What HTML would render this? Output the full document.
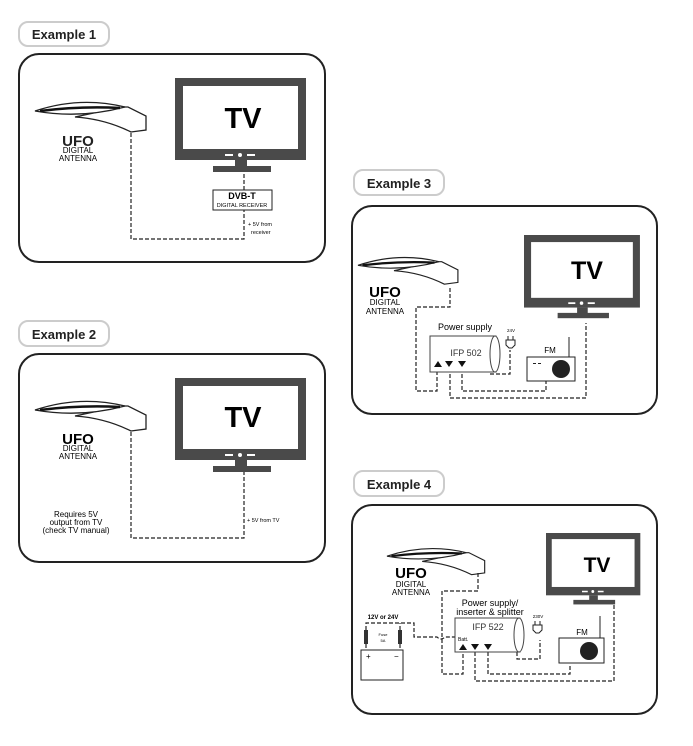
<!DOCTYPE html>
<html><head><meta charset="utf-8"><style>
body{margin:0;background:#fff;}
svg{display:block;font-family:"Liberation Sans",Arial,sans-serif;}
</style></head><body>
<svg width="693" height="746" viewBox="0 0 693 746" xmlns="http://www.w3.org/2000/svg">
<defs>
<g id="tv">
<rect x="0" y="0" width="131" height="82" fill="#4a4a4a"/>
<rect x="8" y="8" width="115" height="63" fill="#fff"/>
<rect x="50" y="76" width="8" height="2" fill="#fff"/><rect x="72" y="76" width="8" height="2" fill="#fff"/><circle cx="65" cy="77" r="2" fill="#fff"/>
<rect x="60" y="82" width="12" height="7" fill="#4a4a4a"/>
<rect x="38" y="88" width="58" height="6" fill="#4a4a4a"/>
</g>
<g id="ant">
<path d="M87,3 L93,3 L111,12 L111,26 L96,28 Q70,15 40,13 Z" fill="#fff" stroke="#222" stroke-width="1.3"/>
<path d="M0,7 Q45,-8 90,3 Q45,15 0,7 Z" fill="#fff" stroke="#222" stroke-width="1.3"/>
<path d="M5,7 Q45,2 85,4" fill="none" stroke="#111" stroke-width="2.5"/>
</g>
</defs>
<g fill="none" stroke="#222" stroke-width="2">
<rect x="19" y="22" width="90" height="24" rx="9" stroke="#ccc"/>
<rect x="19" y="321" width="90" height="25" rx="9" stroke="#ccc"/>
<rect x="354" y="170" width="90" height="25" rx="9" stroke="#ccc"/>
<rect x="354" y="471" width="90" height="25" rx="9" stroke="#ccc"/>
<rect x="19" y="54" width="306" height="208" rx="20"/>
<rect x="19" y="354" width="306" height="208" rx="20"/>
<rect x="352" y="206" width="305" height="208" rx="20"/>
<rect x="352" y="505" width="305" height="209" rx="20"/>
</g>
<g font-weight="bold" font-size="13" fill="#222" text-anchor="middle">
<text x="64" y="39">Example 1</text><text x="64" y="339">Example 2</text>
<text x="399" y="188">Example 3</text><text x="399" y="489">Example 4</text>
</g>
<!-- Example 1 -->
<use href="#tv" transform="translate(175,78)"/>
<use href="#ant" transform="translate(35,104)"/>
<text x="243" y="128" font-size="29" font-weight="bold" text-anchor="middle">TV</text>
<text x="78" y="146" font-size="15" font-weight="bold" text-anchor="middle" fill="#222">UFO</text>
<text x="78" y="152" font-size="8" text-anchor="middle" dy="1">DIGITAL</text>
<text x="78" y="161" font-size="8" text-anchor="middle">ANTENNA</text>
<g fill="none" stroke="#222" stroke-width="1.2" stroke-dasharray="4,2">
<path d="M131,133 V239 H244 V210"/><path d="M244,190 V172"/>
</g>
<rect x="213" y="190" width="59" height="20" fill="#fff" stroke="#222"/>
<text x="242" y="199" font-size="9" font-weight="bold" text-anchor="middle">DVB-T</text>
<text x="242" y="207" font-size="5.5" text-anchor="middle">DIGITAL RECEIVER</text>
<text x="248" y="226" font-size="5.5">+ 5V from</text><text x="251" y="234" font-size="5.5">receiver</text>
<!-- Example 2 -->
<use href="#tv" transform="translate(175,378)"/>
<use href="#ant" transform="translate(35,403)"/>
<text x="243" y="427" font-size="29" font-weight="bold" text-anchor="middle">TV</text>
<text x="78" y="444" font-size="15" font-weight="bold" text-anchor="middle">UFO</text>
<text x="78" y="450" font-size="8" text-anchor="middle" dy="1">DIGITAL</text>
<text x="78" y="459" font-size="8" text-anchor="middle">ANTENNA</text>
<path d="M131,432 V538 H244 V472" fill="none" stroke="#222" stroke-width="1.2" stroke-dasharray="4,2"/>
<g font-size="8" text-anchor="middle"><text x="76" y="517">Requires 5V</text><text x="76" y="525">output from TV</text><text x="76" y="533">(check TV manual)</text></g>
<text x="247" y="522" font-size="5.5">+ 5V from TV</text>
<!-- Example 3 -->
<use href="#tv" transform="translate(524,235) scale(0.885)"/>
<use href="#ant" transform="translate(358,259) scale(0.9)"/>
<text x="587" y="279" font-size="25" font-weight="bold" text-anchor="middle">TV</text>
<text x="385" y="297" font-size="15" font-weight="bold" text-anchor="middle">UFO</text>
<text x="385" y="305" font-size="8" text-anchor="middle">DIGITAL</text>
<text x="385" y="314" font-size="8" text-anchor="middle">ANTENNA</text>
<g fill="none" stroke="#222" stroke-width="1.2" stroke-dasharray="4,2">
<path d="M450,288 V307 H416 V391 H437 V368"/>
<path d="M450,368 V398 H586 V323"/>
<path d="M462,368 V391 H546 V381"/>
<path d="M490,368 V374 H510 V350"/>
</g>
<rect x="430" y="336" width="66" height="36" fill="#fff" stroke="#444"/>
<ellipse cx="495" cy="354" rx="5" ry="18" fill="#fff" stroke="#444"/>
<text x="465" y="330" font-size="9" text-anchor="middle">Power supply</text>
<text x="466" y="356" font-size="9" text-anchor="middle" fill="#333">IFP 502</text>
<path d="M434,367 L438,361 L442,367 Z M445,361 L453,361 L449,367 Z M458,361 L466,361 L462,367 Z" fill="#111"/>
<path d="M506,340 h9 v5 l-3,3 h-3 l-3,-3 Z M508,336 v4 M513,336 v4" fill="#fff" stroke="#222"/>
<text x="511" y="332" font-size="4.5" text-anchor="middle">24V</text>
<line x1="569" y1="337" x2="569" y2="357" stroke="#222"/>
<rect x="527" y="357" width="48" height="24" fill="#fff" stroke="#222"/>
<circle cx="561" cy="369" r="9" fill="#222"/>
<rect x="533" y="363" width="3" height="1" fill="#222"/><rect x="538" y="363" width="3" height="1" fill="#222"/>
<text x="550" y="353" font-size="8" text-anchor="middle">FM</text>
<!-- Example 4 -->
<use href="#tv" transform="translate(546,533) scale(0.72,0.76)"/>
<use href="#ant" transform="translate(387,550) scale(0.88)"/>
<text x="597" y="572" font-size="21" font-weight="bold" text-anchor="middle">TV</text>
<text x="411" y="578" font-size="15" font-weight="bold" text-anchor="middle">UFO</text>
<text x="411" y="587" font-size="8" text-anchor="middle">DIGITAL</text>
<text x="411" y="595" font-size="8" text-anchor="middle">ANTENNA</text>
<g fill="none" stroke="#222" stroke-width="1.2" stroke-dasharray="4,2">
<path d="M478,573 V591 H442 V674 H463 V652"/>
<path d="M475,652 V681 H614 V605"/>
<path d="M488,652 V674 H570 V665"/>
<path d="M517,652 V659 H540 V640"/>
<path d="M366,648 V623 H414 V637 H437 Q441,641 445,637 H455"/>
<path d="M400,648 V623"/>
</g>
<rect x="455" y="618" width="65" height="34" fill="#fff" stroke="#444"/>
<ellipse cx="519" cy="635" rx="5" ry="17" fill="#fff" stroke="#444"/>
<text x="490" y="606" font-size="9" text-anchor="middle">Power supply/</text>
<text x="490" y="615" font-size="9" text-anchor="middle">inserter &amp; splitter</text>
<text x="488" y="630" font-size="9" text-anchor="middle" fill="#333">IFP 522</text>
<text x="458" y="641" font-size="5">Batt.</text>
<path d="M459,650 L463,644 L467,650 Z M471,644 L479,644 L475,650 Z M484,644 L492,644 L488,650 Z" fill="#111"/>
<path d="M533,625 h9 v5 l-3,3 h-3 l-3,-3 Z M535,621 v4 M540,621 v4" fill="#fff" stroke="#222"/>
<text x="538" y="618" font-size="4.5" text-anchor="middle">230V</text>
<line x1="600" y1="616" x2="600" y2="640" stroke="#222"/>
<rect x="559" y="638" width="45" height="25" fill="#fff" stroke="#222"/>
<circle cx="589" cy="651" r="9" fill="#222"/>
<text x="582" y="635" font-size="8" text-anchor="middle">FM</text>
<text x="383" y="619" font-size="6" text-anchor="middle" font-weight="bold">12V or 24V</text>
<rect x="364" y="630" width="4" height="14" fill="#333"/><rect x="398" y="630" width="4" height="14" fill="#333"/>
<text x="383" y="636" font-size="4" text-anchor="middle">Fuse</text><text x="383" y="642" font-size="4" text-anchor="middle">5A</text>
<rect x="361" y="650" width="42" height="30" fill="#fff" stroke="#222"/>
<text x="366" y="659" font-size="8">+</text><text x="394" y="659" font-size="8">−</text>
</svg>
</body></html>
